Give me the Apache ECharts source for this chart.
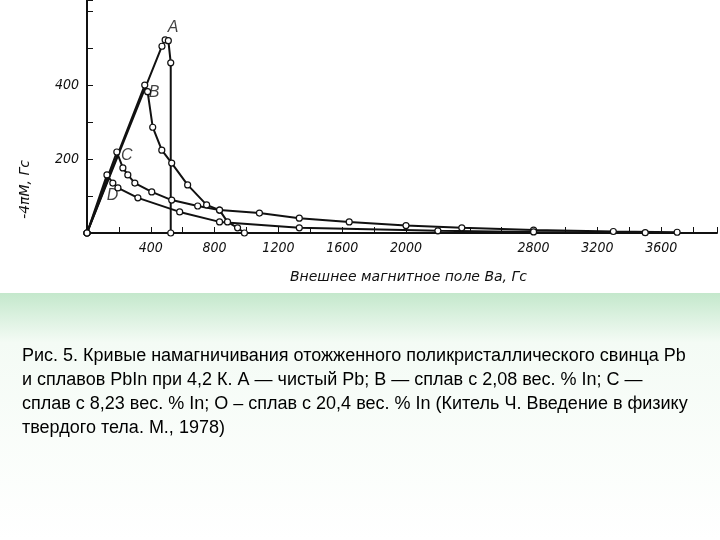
<!DOCTYPE html>
<html><head><meta charset="utf-8">
<script src="https://cdn.jsdelivr.net/npm/echarts@6/dist/echarts.min.js"></script>
<style>html,body{margin:0;padding:0;background:#fff}#c{width:720px;height:540px}</style>
</head><body><div id="c"></div>
<script>
// curve points [field, -4piM]
const curveA = [[0, 0], [470, 505], [490, 522], [510, 520], [525, 460], [525, 0]];
const curveB = [[0, 0], [362, 400], [380, 382], [412, 286], [469, 224], [531, 189], [631, 130], [750, 76], [831, 62], [881, 30], [944, 14], [987, 0]];
const curveC = [[0, 0], [187, 219], [225, 176], [256, 157], [300, 135], [406, 111], [531, 89], [694, 73], [831, 62], [1081, 54], [1331, 40], [1644, 30], [2000, 20], [2350, 14], [2800, 8], [3300, 4], [3700, 2]];
const curveD = [[0, 0], [125, 157], [162, 135], [194, 122], [319, 95], [581, 57], [831, 30], [1331, 14], [2200, 6], [2800, 3], [3500, 1]];
const curveLabels = [['A', 540, 555], ['B', 420, 380], ['C', 250, 210], ['D', 160, 100]];
const caption = 'Рис. 5. Кривые намагничивания отожженного поликристаллического свинца Pb\nи сплавов PbIn при 4,2 К. А — чистый Pb; В — сплав с 2,08 вес. % In; С —\nсплав с 8,23 вес. % In; О – сплав с 20,4 вес. % In (Китель Ч. Введение в физику\nтвердого тела. М., 1978)';

const chart = echarts.init(document.getElementById('c'));
const line = (data) => ({
  type: 'line', data, smooth: false, symbol: 'circle', symbolSize: 6,
  itemStyle: { color: '#fff', borderColor: '#111', borderWidth: 1.2 },
  lineStyle: { color: '#111', width: 2 }, z: 3
});
chart.setOption({
  animation: false,
  graphic: [
    { type: 'rect', shape: { x: 0, y: 293, width: 720, height: 247 }, z: -10,
      style: { fill: new echarts.graphic.LinearGradient(0, 0, 0, 1, [
        { offset: 0, color: '#c4e8cc' }, { offset: 0.2, color: '#f4fbf5' }, { offset: 1, color: '#ffffff' }]) } },
    { type: 'text', left: 22, top: 344, z: 10,
      style: { text: caption, font: '18px "Liberation Sans", Arial, sans-serif', fill: '#000', lineHeight: 24 } },
    { type: 'text', left: 290, top: 270, style: { text: 'Внешнее магнитное поле Bа, Гс', font: 'italic 14px "DejaVu Sans"', fill: '#111' } },
    { type: 'text', left: 18, top: 160, rotation: Math.PI / 2,
      style: { text: '-4πM, Гс', font: 'italic 14px "DejaVu Sans"', fill: '#111' } }
  ],
  grid: { left: 87, right: 0, top: 0, bottom: 307 },
  xAxis: {
    type: 'value', min: 0, max: 3950, interval: 200,
    axisLine: { lineStyle: { color: '#111', width: 2 } },
    axisTick: { inside: true, length: 6, lineStyle: { color: '#111' } },
    splitLine: { show: false },
    axisLabel: { color: '#111', fontStyle: 'italic', fontSize: 14, fontFamily: 'DejaVu Sans Condensed',
      formatter: v => (v > 0 && v % 400 === 0 && v !== 2400) ? String(v) : '' }
  },
  yAxis: {
    type: 'value', min: 0, max: 630, interval: 100,
    axisLine: { show: true, lineStyle: { color: '#111', width: 2 } },
    axisTick: { inside: true, length: 6, lineStyle: { color: '#111' } },
    splitLine: { show: false },
    axisLabel: { color: '#111', fontStyle: 'italic', fontSize: 14, fontFamily: 'DejaVu Sans Condensed',
      formatter: v => (v === 200 || v === 400) ? String(v) : '' }
  },
  series: [
    line(curveA), line(curveB), line(curveC), line(curveD),
    { type: 'scatter', data: curveLabels.map(d => [d[1], d[2], d[0]]), symbolSize: 0,
      label: { show: true, formatter: p => p.data[2], fontStyle: 'italic', fontSize: 16, color: '#111' } }
  ]
});
</script></body></html>
